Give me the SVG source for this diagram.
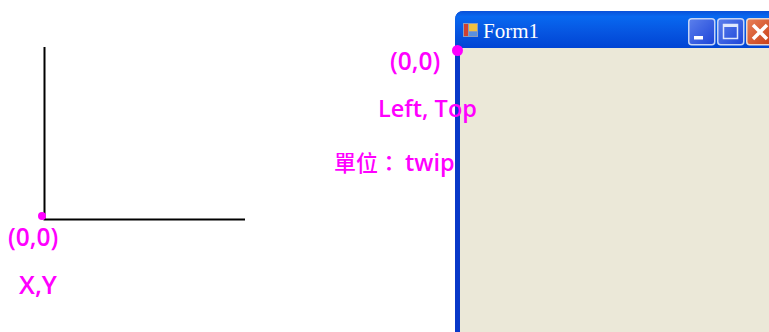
<svg xmlns="http://www.w3.org/2000/svg" width="769" height="332" viewBox="0 0 769 332">
<style>
.m{font-family:"Open Sans","Noto Sans CJK TC","Noto Sans",sans-serif;font-size:23.500px;font-weight:600;fill:#ff00ff}
.w{font-size:24.500px}
.x{font-size:25.500px}
.c{font-family:"Noto Sans CJK TC",sans-serif;font-size:22px;font-weight:500;fill:#ff00ff}
.ax{fill:none;stroke:#000;stroke-width:2}
.btn{stroke:#c4d4f6;stroke-width:1.500}
</style>
<defs>
<linearGradient id="tb" x1="0" y1="0" x2="0" y2="1">
<stop offset="0" stop-color="#0a50d8"/><stop offset="0.15" stop-color="#0868f0"/><stop offset="0.6" stop-color="#0654e0"/><stop offset="1" stop-color="#0044d4"/>
</linearGradient>
<linearGradient id="bb" x1="0" y1="0" x2="1" y2="1">
<stop offset="0" stop-color="#5c80ec"/><stop offset="1" stop-color="#1c44d8"/>
</linearGradient>
<linearGradient id="bc" x1="0" y1="0" x2="1" y2="1">
<stop offset="0" stop-color="#e88058"/><stop offset="1" stop-color="#c83c14"/>
</linearGradient>
<linearGradient id="side" x1="0" y1="0" x2="1" y2="0">
<stop offset="0" stop-color="#0838c8"/><stop offset="0.5" stop-color="#0848f0"/><stop offset="1" stop-color="#2a80f8"/>
</linearGradient>
</defs>
<g id="axes">
<path class="ax" d="M44.500 47V219.500H245"/>
<circle cx="42" cy="216" r="4" fill="#ff00ff"/>
<text class="m w" x="8" y="246">(0,0)</text>
<text class="m x" x="19" y="294">X,Y</text>
</g>
<g id="form">
<path d="M455 332V20Q455 11 464 11H769V332Z" fill="url(#side)"/>
<path d="M455 48V20Q455 11 464 11H769V48Z" fill="url(#tb)"/>
<rect x="460" y="48" width="309" height="284" fill="#ebe8d8"/>
<g id="icon">
<rect x="463" y="23" width="15" height="14" fill="#8e9ab8"/>
<rect x="469" y="24" width="8" height="7" fill="#f0c040"/>
<rect x="464" y="24" width="4" height="12" fill="#d04030"/>
<rect x="469" y="32" width="8" height="4" fill="#5a90e0"/>
</g>
<text x="483" y="38" font-family="Liberation Serif,serif" font-size="21" fill="#fff">Form1</text>
<g id="buttons">
<rect class="btn" x="688.750" y="18.750" width="26" height="26" rx="3" fill="url(#bb)"/>
<rect x="694" y="36" width="9" height="3.500" fill="#fff"/>
<rect class="btn" x="717.750" y="18.750" width="26" height="26" rx="3" fill="url(#bb)"/>
<rect x="723.500" y="24.500" width="14" height="14" fill="none" stroke="#dfe8fc" stroke-width="1.500"/>
<rect x="723" y="24" width="15" height="3" fill="#dfe8fc"/>
<rect x="746.750" y="18.750" width="26" height="26" rx="3" fill="url(#bc)" stroke="#e8d8d0" stroke-width="1.500"/>
<path d="M753 25L767 39M767 25L753 39" stroke="#fff" stroke-width="3.500" fill="none"/>
</g>
</g>
<g id="labels">
<circle cx="457.500" cy="50.500" r="5.500" fill="#ff00ff"/>
<text class="m w" x="390" y="70">(0,0)</text>
<text class="m" x="378" y="117">Left, Top</text>
<text x="334" y="171"><tspan class="c">單位：</tspan><tspan class="m" x="405">twip</tspan></text>
</g>
</svg>
